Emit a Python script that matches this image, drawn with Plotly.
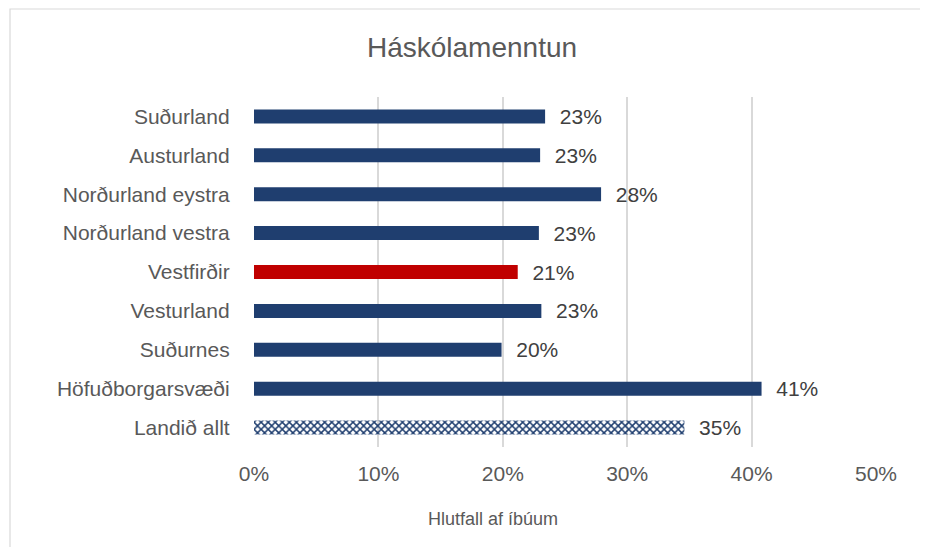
import plotly.graph_objects as go

# Gögn (frá neðsta til efsta flokks)
svaedi = ["Landið allt", "Höfuðborgarsvæði", "Suðurnes", "Vesturland", "Vestfirðir",
          "Norðurland vestra", "Norðurland eystra", "Austurland", "Suðurland"]
hlutfall = [0.346, 0.408, 0.199, 0.231, 0.212, 0.229, 0.279, 0.230, 0.234]
merki = ["35%", "41%", "20%", "23%", "21%", "23%", "28%", "23%", "23%"]

BLUE = "#1F3E6F"
RED = "#C00000"
GRAY = "#595959"

litir = [BLUE] * len(svaedi)
litir[svaedi.index("Vestfirðir")] = RED
mynstur = ["x" if s == "Landið allt" else "" for s in svaedi]

# síðan hefur 8px spássíu, svo allt er fært um 8px
OFF = 8
W, H = 928 - OFF, 547 - OFF
L, T = 254 - OFF, 97 - OFF
R = 928 - 876
B = 547 - 447
pw, ph = W - L - R, H - T - B


def px_x(x):
    return (x - OFF - L) / pw


def px_y(y):
    return (H - B - (y - OFF)) / ph


fig = go.Figure(go.Bar(
    x=hlutfall, y=svaedi, orientation="h",
    width=0.36,
    marker=dict(
        color=litir,
        line=dict(width=0),
        pattern=dict(shape=mynstur, fgcolor=BLUE, bgcolor="white",
                     size=5, solidity=0.5, fillmode="replace"),
    ),
    text=["  " + m for m in merki],
    textposition="outside",
    constraintext="none",
    textfont=dict(size=21, color="#404040"),
    cliponaxis=False,
))

fig.update_layout(
    width=W, height=H,
    margin=dict(l=L, r=R, t=T, b=B),
    paper_bgcolor="white", plot_bgcolor="white",
    font=dict(family="Liberation Sans, Arial", color=GRAY),
    title=dict(text="Háskólamenntun", x=px_x(472), xanchor="center", xref="paper",
               y=1 - (47 - OFF) / H, yanchor="middle",
               font=dict(size=28, color=GRAY)),
    showlegend=False,
)
fig.update_xaxes(range=[0, 0.5], dtick=0.1, tickformat=".0%",
                 showgrid=True, gridcolor="#D9D9D9", gridwidth=1.5,
                 zeroline=False, showline=False,
                 tickfont=dict(size=21, color=GRAY), ticklen=8,
                 ticks="outside", tickcolor="rgba(0,0,0,0)")
fig.update_yaxes(showgrid=False, showline=False, ticks="",
                 tickfont=dict(size=21, color=GRAY), ticksuffix="    ")

# Titill x-áss
fig.add_annotation(text="Hlutfall af íbúum", xref="paper", yref="paper",
                   x=px_x(493), y=px_y(519),
                   xanchor="center", yanchor="middle", showarrow=False,
                   font=dict(size=18, color=GRAY))

# Rammi um myndina
fig.add_shape(type="rect", xref="paper", yref="paper",
              x0=px_x(10), x1=px_x(945),
              y0=px_y(570), y1=px_y(9),
              line=dict(color="#D9D9D9", width=1.2), layer="below")

fig.write_html("out.html")
